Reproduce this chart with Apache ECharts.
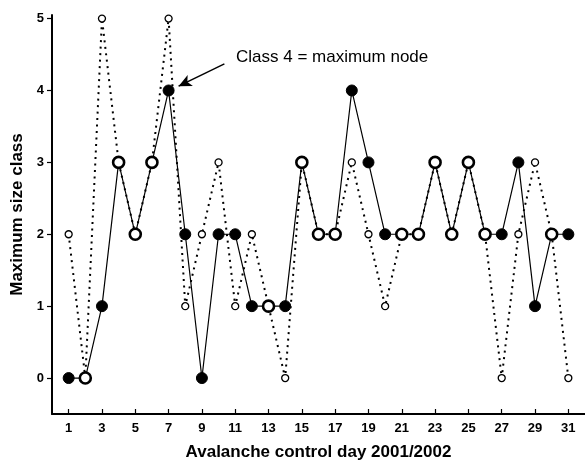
<!DOCTYPE html>
<html>
<head>
<meta charset="utf-8">
<script src="https://cdn.jsdelivr.net/npm/echarts@6/dist/echarts.min.js"></script>
<style>
  * { margin: 0; padding: 0; }
  body { background: #fff; }
</style>
</head>
<body>
<div id="chart" style="width: 585px;height: 466px;"></div>
<script>
// avalanche control days 1..31
var days = [1, 2, 3, 4, 5, 6, 7, 8, 9, 10, 11, 12, 13, 14, 15, 16, 17, 18, 19, 20, 21, 22, 23, 24, 25, 26, 27, 28, 29, 30, 31]
// solid line, filled nodes
var nodeClass = [0, 0, 1, 3, 2, 3, 4, 2, 0, 2, 2, 1, 1, 1, 3, 2, 2, 4, 3, 2, 2, 2, 3, 2, 3, 2, 2, 3, 1, 2, 2]
// dotted line, small open circles
var observedClass = [2, 0, 5, 3, 2, 3, 5, 1, 2, 3, 1, 2, 1, 0, 3, 2, 2, 3, 2, 1, 2, 2, 3, 2, 3, 2, 0, 2, 3, 2, 0]
var xTicks = [1, 3, 5, 7, 9, 11, 13, 15, 17, 19, 21, 23, 25, 27, 29, 31]
var yTicks = [0, 1, 2, 3, 4, 5]

var font = 'Arial, "Liberation Sans", sans-serif'

// solid series: node drawn open where it agrees with the dotted series
var solidData = days.map(function (d, i) {
  var same = nodeClass[i] === observedClass[i]
  return {
    value: [d, nodeClass[i]],
    itemStyle: same
      ? { color: '#fff', borderColor: '#000', borderWidth: 2.6 }
      : { color: '#000', borderColor: '#000', borderWidth: 1 }
  }
})
var dottedData = days.map(function (d, i) { return [d, observedClass[i]] })

var chart = echarts.init(document.getElementById('chart'))
chart.setOption({
  animation: false,
  grid: { left: 52, right: 0, top: 15, bottom: 48 },
  xAxis: {
    type: 'value',
    min: 0,
    max: 32,
    name: 'Avalanche control day 2001/2002',
    nameLocation: 'middle',
    nameGap: 30,
    nameTextStyle: { fontFamily: font, fontWeight: 'bold', fontSize: 17, color: '#000' },
    splitLine: { show: false },
    axisLine: { onZero: false, lineStyle: { color: '#000', width: 2 } },
    axisTick: { inside: true, length: 5, customValues: xTicks, lineStyle: { color: '#000', width: 1.2 } },
    axisLabel: { customValues: xTicks, fontFamily: font, fontWeight: 'bold', fontSize: 13, color: '#000', margin: 8 }
  },
  yAxis: {
    type: 'value',
    min: -0.5,
    max: 5.05,
    name: 'Maximum size class',
    nameLocation: 'middle',
    nameGap: 25,
    nameTextStyle: { fontFamily: font, fontWeight: 'bold', fontSize: 17, color: '#000' },
    splitLine: { show: false },
    axisLine: { show: true, onZero: false, lineStyle: { color: '#000', width: 2 } },
    axisTick: { show: true, length: 5, customValues: yTicks, lineStyle: { color: '#000', width: 1.2 } },
    axisLabel: { customValues: yTicks, fontFamily: font, fontWeight: 'bold', fontSize: 13, color: '#000', margin: 8 }
  },
  series: [
    {
      name: 'observed',
      type: 'line',
      data: dottedData,
      z: 2,
      symbol: 'circle',
      symbolSize: 7,
      showAllSymbol: true,
      lineStyle: { color: '#000', width: 2, type: [2, 4.5] },
      itemStyle: { color: '#fff', borderColor: '#000', borderWidth: 1.3 }
    },
    {
      name: 'node',
      type: 'line',
      data: solidData,
      z: 3,
      symbol: 'circle',
      symbolSize: 11,
      showAllSymbol: true,
      lineStyle: { color: '#000', width: 1.2 },
      markLine: {
        silent: true,
        symbol: ['none', 'arrow'],
        symbolSize: [9, 13],
        label: { show: false },
        lineStyle: { color: '#000', width: 1.5, type: 'solid' },
        data: [[{ coord: [10.35, 4.37] }, { coord: [7.6, 4.06] }]]
      }
    }
  ],
  graphic: [
    {
      type: 'text',
      left: 236,
      top: 49,
      style: { text: 'Class 4 = maximum node', font: '17px ' + font, fill: '#000' }
    }
  ]
})
</script>
</body>
</html>
